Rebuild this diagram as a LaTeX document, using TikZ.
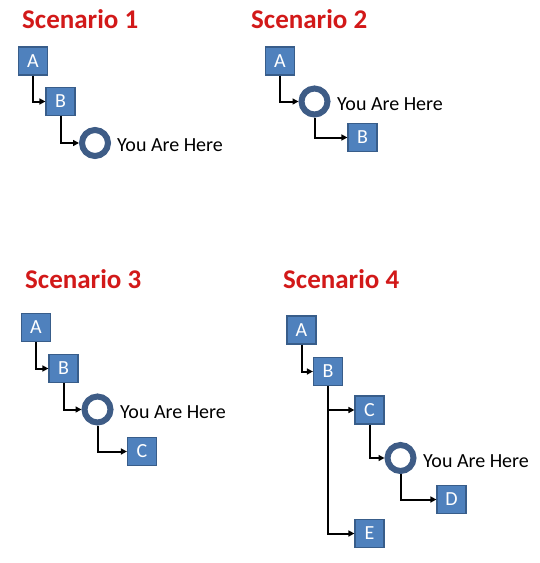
\documentclass[tikz,border=0pt]{standalone}
\usepackage{fontspec}
\setmainfont{Carlito}
\usetikzlibrary{arrows.meta}
\definecolor{boxblue}{HTML}{4F81BD}
\definecolor{boxedge}{HTML}{385D8A}
\definecolor{ringblue}{HTML}{3E5C86}
\definecolor{titlered}{HTML}{D21919}
\tikzset{
  sbox/.style={draw=boxedge,fill=boxblue,line width=1.2pt,minimum width=29pt,minimum height=28pt,inner sep=0pt,text=white,font=\fontsize{20}{20}\selectfont},
  here/.style={circle,draw=ringblue,fill=white,line width=6pt,minimum size=26pt,inner sep=0pt},
  herelabel/.style={anchor=west,inner sep=0pt,font=\fontsize{20}{20}\selectfont},
  ttl/.style={anchor=base west,inner sep=0pt,text=titlered,font=\fontsize{27}{27}\selectfont\bfseries},
  conn/.style={line width=2pt,-{Triangle[length=6pt,width=6pt]}}
}
\begin{document}
\begin{tikzpicture}[x=1pt,y=-1pt]
\useasboundingbox (0,0) rectangle (540,563);
% Scenario 1
\node[ttl] (t1) at (22,28) {Scenario 1};
\node[sbox] (a1) at (33,61) {A};
\node[sbox] (b1) at (60.5,101.5) {B};
\node[here] (h1) at (95,143) {};
\node[herelabel] (l1) at (117,145) {You Are Here};
\draw[conn] (a1.south) |- (b1.west);
\draw[conn] (b1.south) |- (h1.west);
% Scenario 2
\node[ttl] (t2) at (251,28) {Scenario 2};
\node[sbox] (a2) at (280,61) {A};
\node[here] (h2) at (314.5,101.5) {};
\node[herelabel] (l2) at (337,104) {You Are Here};
\node[sbox] (b2) at (362.5,137.5) {B};
\draw[conn] (a2.south) |- (h2.west);
\draw[conn] (h2.south) |- (b2.west);
% Scenario 3
\node[ttl] (t3) at (25,288) {Scenario 3};
\node[sbox] (a3) at (36,327.5) {A};
\node[sbox] (b3) at (63.5,368.5) {B};
\node[here] (h3) at (97.5,409.5) {};
\node[herelabel] (l3) at (120,412) {You Are Here};
\node[sbox] (c3) at (142,451.5) {C};
\draw[conn] (a3.south) |- (b3.west);
\draw[conn] (b3.south) |- (h3.west);
\draw[conn] (h3.south) |- (c3.west);
% Scenario 4
\node[ttl] (t4) at (283,288) {Scenario 4};
\node[sbox] (a4) at (301.5,330) {A};
\node[sbox] (b4) at (328,371.5) {B};
\node[sbox] (c4) at (369.5,410) {C};
\node[here] (h4) at (400.5,458) {};
\node[herelabel] (l4) at (423,461) {You Are Here};
\node[sbox] (d4) at (451.5,499.5) {D};
\node[sbox] (e4) at (369.5,533.5) {E};
\draw[conn] (a4.south) |- (b4.west);
\draw[conn] (b4.south) |- (e4.west);
\draw[conn] (b4.south |- c4.west) -- (c4.west);
\draw[conn] (c4.south) |- (h4.west);
\draw[conn] (h4.south) |- (d4.west);
\end{tikzpicture}
\end{document}
